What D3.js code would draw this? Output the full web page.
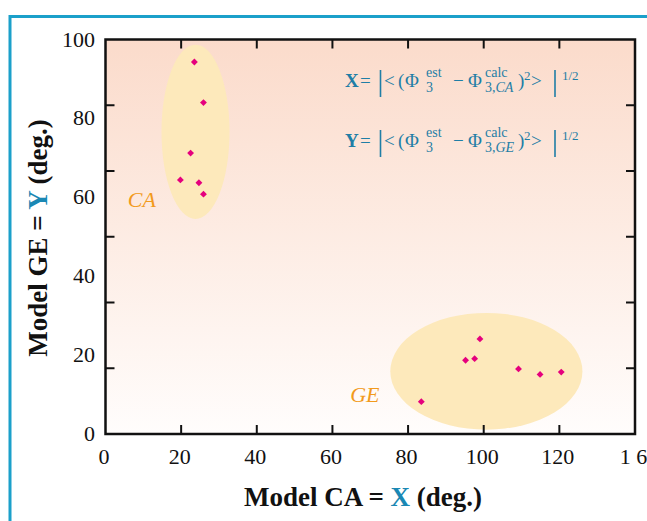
<!DOCTYPE html>
<html>
<head>
<meta charset="utf-8">
<script src="https://cdn.jsdelivr.net/npm/d3@7"></script>
<style>
  body { margin: 0; background: #fff; }
  svg { display: block; font-family: 'Liberation Serif', 'Times New Roman', serif; }
</style>
</head>
<body>
<div id="chart"></div>
<script>
  var width = 647;
  var height = 521;

  // data
  var caX = [23.5, 25.9, 22.5, 19.8, 24.7, 25.9];
  var caY = [94.3, 84.0, 71.2, 64.4, 63.7, 60.8];
  var geX = [99.0, 95.2, 97.6, 109.2, 114.9, 120.5, 83.5];
  var geY = [24.1, 18.7, 19.1, 16.5, 15.1, 15.7, 8.2];
  var groups = ['CA', 'GE'];
  // ellipse centre / radii in data units
  var groupCx = [23.8, 100.7];
  var groupCy = [76.6, 15.9];
  var groupRx = [9.0, 25.4];
  var groupRy = [22.1, 14.8];
  var groupLabelX = [5.9, 64.7];
  var groupLabelY = [57.6, 8.2];

  var xTickValues = [0, 20, 40, 60, 80, 100, 120, 140];
  var xTickLabels = ['0', '20', '40', '60', '80', '100', '120', '1 6'];
  var yTickValues = [0, 20, 40, 60, 80, 100];
  var yTickLabels = ['0', '20', '40', '60', '80', '100'];
  var yMarkValues = [20, 40, 60, 80, 100]; // tick marks sit on a 0-120 grid

  var margin = {left: 105.5, right: 12, top: 39.5, bottom: 87};

  var x = d3.scaleLinear().domain([0, 140])
    .range([margin.left, width - margin.right]);
  var y = d3.scaleLinear().domain([0, 100])
    .range([height - margin.bottom, margin.top]);
  var yMark = d3.scaleLinear().domain([0, 120])
    .range([height - margin.bottom, margin.top]);

  var svg = d3.select('#chart').append('svg')
    .attr('width', width)
    .attr('height', height);

  var defs = svg.append('defs');
  var grad = defs.append('linearGradient')
    .attr('id', 'bg').attr('x1', 0).attr('y1', 0).attr('x2', 0).attr('y2', 1);
  grad.append('stop').attr('offset', '0%').attr('stop-color', '#fbdbcb');
  grad.append('stop').attr('offset', '100%').attr('stop-color', '#fffdfc');

  // outer teal frame
  svg.append('path')
    .attr('d', 'M10,521 V16.5 H647')
    .attr('fill', 'none')
    .attr('stroke', '#1ba0ca')
    .attr('stroke-width', 3);

  var pw = x(140) - x(0);
  var ph = y(0) - y(100);

  svg.append('rect')
    .attr('x', x(0)).attr('y', y(100))
    .attr('width', pw).attr('height', ph)
    .attr('fill', 'url(#bg)');

  // ellipses
  svg.selectAll('.blob')
    .data(groups)
    .enter()
    .append('ellipse')
    .attr('class', 'blob')
    .attr('cx', function(d, i) { return x(groupCx[i]); })
    .attr('cy', function(d, i) { return y(groupCy[i]); })
    .attr('rx', function(d, i) { return x(groupRx[i]) - x(0); })
    .attr('ry', function(d, i) { return y(0) - y(groupRy[i]); })
    .attr('fill', '#fde9bb');

  svg.selectAll('.glabel')
    .data(groups)
    .enter()
    .append('text')
    .attr('class', 'glabel')
    .attr('x', function(d, i) { return x(groupLabelX[i]); })
    .attr('y', function(d, i) { return y(groupLabelY[i]); })
    .attr('font-size', 22)
    .attr('font-style', 'italic')
    .attr('fill', '#f29a1c')
    .text(function(d) { return d; });

  // points
  var pts = caX.map(function(v, i) { return [v, caY[i]]; })
    .concat(geX.map(function(v, i) { return [v, geY[i]]; }));
  var diamond = d3.symbol().type(d3.symbolDiamond2).size(30);
  svg.selectAll('.pt')
    .data(pts)
    .enter()
    .append('path')
    .attr('class', 'pt')
    .attr('transform', function(d) { return 'translate(' + x(d[0]) + ',' + y(d[1]) + ')'; })
    .attr('d', diamond)
    .attr('fill', '#e5007d');

  // frame + tick marks
  var frame = svg.append('g')
    .attr('stroke', '#111')
    .attr('fill', 'none');

  frame.append('rect')
    .attr('x', x(0)).attr('y', y(100))
    .attr('width', pw).attr('height', ph)
    .attr('stroke-width', 2.5);

  var tickLen = 9;
  xTickValues.slice(1, -1).forEach(function(v) {
    frame.append('line')
      .attr('x1', x(v)).attr('x2', x(v))
      .attr('y1', y(0)).attr('y2', y(0) - tickLen)
      .attr('stroke-width', 2);
    frame.append('line')
      .attr('x1', x(v)).attr('x2', x(v))
      .attr('y1', y(100)).attr('y2', y(100) + tickLen)
      .attr('stroke-width', 2);
  });
  yMarkValues.forEach(function(v) {
    frame.append('line')
      .attr('x1', x(0)).attr('x2', x(0) + tickLen)
      .attr('y1', yMark(v)).attr('y2', yMark(v))
      .attr('stroke-width', 2);
    frame.append('line')
      .attr('x1', x(140)).attr('x2', x(140) - tickLen)
      .attr('y1', yMark(v)).attr('y2', yMark(v))
      .attr('stroke-width', 2);
  });

  // tick labels
  svg.selectAll('.xl')
    .data(xTickValues)
    .enter()
    .append('text')
    .attr('class', 'xl')
    .attr('x', function(d) { return x(d) - 1.5; })
    .attr('y', y(0) + 30)
    .attr('text-anchor', 'middle')
    .attr('font-size', 22)
    .attr('fill', '#111')
    .text(function(d, i) { return xTickLabels[i]; });

  svg.selectAll('.yl')
    .data(yTickValues)
    .enter()
    .append('text')
    .attr('class', 'yl')
    .attr('x', 95)
    .attr('y', function(d) { return y(d) + 7; })
    .attr('text-anchor', 'end')
    .attr('font-size', 22)
    .attr('fill', '#111')
    .text(function(d, i) { return yTickLabels[i]; });

  // axis titles
  var xt = svg.append('text')
    .attr('x', 363).attr('y', 506)
    .attr('text-anchor', 'middle')
    .attr('font-size', 27)
    .attr('font-weight', 'bold')
    .attr('fill', '#111');
  xt.append('tspan').text('Model CA = ');
  xt.append('tspan').attr('fill', '#1a88b4').text('X');
  xt.append('tspan').text(' (deg.)');

  var yt = svg.append('text')
    .attr('transform', 'translate(47,238) rotate(-90)')
    .attr('text-anchor', 'middle')
    .attr('font-size', 27)
    .attr('font-weight', 'bold')
    .attr('fill', '#111');
  yt.append('tspan').text('Model GE = ');
  yt.append('tspan').attr('fill', '#1a88b4').text('Y');
  yt.append('tspan').text(' (deg.)');

  // formulas
  var fcol = '#1f7ea6';
  function formula(letter, sub, base) {
    var g = svg.append('g').attr('fill', fcol);
    function t(tx, ty, s, size, opts) {
      var e = g.append('text').attr('x', tx).attr('y', base + ty)
        .attr('font-size', size).text(s);
      if (opts && opts.bold) e.attr('font-weight', 'bold');
      if (opts && opts.italic) e.attr('font-style', 'italic');
      return e;
    }
    t(345, 0, letter, 19, {bold: true});
    t(360, 0, '=', 19);
    t(384, 0, '<', 19);
    t(398, 0, '(', 19);
    t(405, 0, '\u03A6', 19);
    t(426, -10, 'est', 14);
    t(426, 5, '3', 14);
    t(453, 0, '\u2212', 19);
    t(468, 0, '\u03A6', 19);
    t(485, -10, 'calc', 14);
    var s = t(485, 5, '3,', 14);
    s.append('tspan').attr('font-style', 'italic').text(sub);
    t(518, 0, ')', 19);
    t(524, -7, '2', 13);
    t(531, 0, '>', 19);
    t(562, -7, '1/2', 13);
    g.append('line').attr('x1', 380.5).attr('x2', 380.5)
      .attr('y1', base - 17).attr('y2', base + 10)
      .attr('stroke', fcol).attr('stroke-width', 1.6);
    g.append('line').attr('x1', 555).attr('x2', 555)
      .attr('y1', base - 17).attr('y2', base + 10)
      .attr('stroke', fcol).attr('stroke-width', 1.6);
  }
  formula('X', 'CA', 87);
  formula('Y', 'GE', 147);
</script>
</body>
</html>
